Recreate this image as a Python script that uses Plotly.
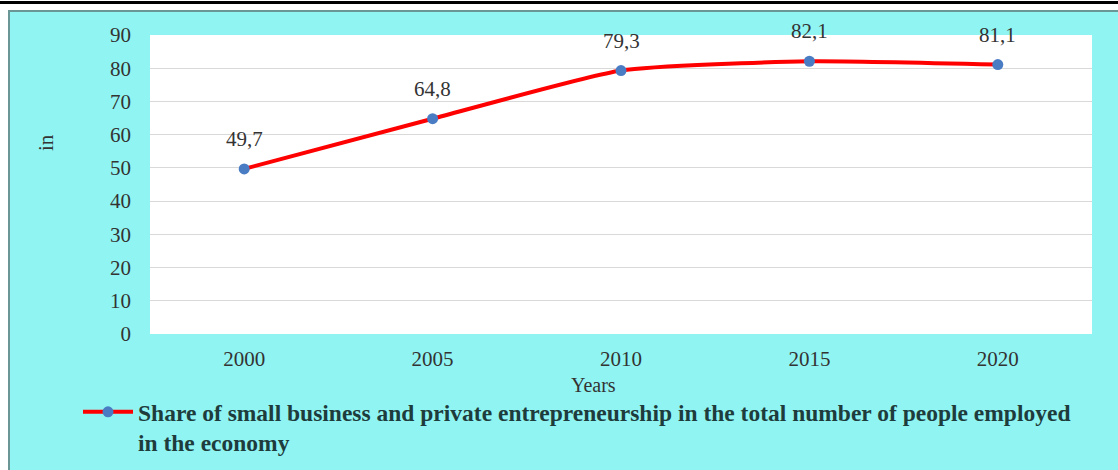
import plotly.graph_objects as go

years = ["2000", "2005", "2010", "2015", "2020"]
share = [49.7, 64.8, 79.3, 82.1, 81.1]
y_ticks = [0, 10, 20, 30, 40, 50, 60, 70, 80, 90]
series_name = ("Share of small business and private entrepreneurship in the total number of people employed"
               "<br>in the economy")

W, H = 1118, 470
L, R, T, B = 150, 26, 35, 136
pw, ph = W - L - R, H - T - B

def fx(px):
    return (px - L) / pw

def fy(py):
    return (H - B - py) / ph

FONT = "Liberation Serif"
CYAN = "#90F5F2"
TXT = "#333333"

fig = go.Figure()
fig.add_trace(go.Scatter(
    x=years, y=share, mode="lines+markers", name=series_name,
    line=dict(color="#FF0000", width=4, shape="spline", smoothing=0.5),
    marker=dict(color="#4A7CC4", size=11),
    showlegend=True,
))

annotations = []
for i, v in enumerate(share):
    annotations.append(dict(
        x=i, y=v, xref="x", yref="y", text=f"{v:.1f}".replace(".", ","),
        xanchor="center", yanchor="middle",
        showarrow=False, yshift=30, font=dict(family=FONT, size=21, color=TXT),
    ))
annotations.append(dict(
    x=fx(593), y=fy(385), xref="paper", yref="paper", text="Years", showarrow=False,
    xanchor="center", yanchor="middle",
    font=dict(family=FONT, size=20, color=TXT),
))
annotations.append(dict(
    x=fx(46), y=fy(143), xref="paper", yref="paper", text="in", textangle=-90, showarrow=False,
    xanchor="center", yanchor="middle",
    font=dict(family=FONT, size=21, color=TXT),
))

shapes = [
    dict(type="rect", xref="paper", yref="paper", x0=fx(8), x1=fx(1120), y0=fy(472), y1=fy(10),
         fillcolor=CYAN, line=dict(width=0), layer="below"),
    dict(type="line", xref="paper", yref="paper", x0=fx(9), x1=fx(9), y0=fy(472), y1=fy(10),
         line=dict(color="#6A9696", width=2)),
    dict(type="line", xref="paper", yref="paper", x0=fx(8), x1=fx(1120), y0=fy(11), y1=fy(11),
         line=dict(color="#6A9696", width=2)),
    dict(type="line", xref="paper", yref="paper", x0=fx(0), x1=fx(1120), y0=fy(2.5), y1=fy(2.5),
         line=dict(color="#000000", width=3)),
    dict(type="rect", xref="paper", yref="paper", x0=0, x1=1, y0=0, y1=1,
         fillcolor="#FFFFFF", line=dict(width=0), layer="below"),
]

fig.update_layout(
    width=W, height=H,
    margin=dict(l=L, r=R, t=T, b=B, autoexpand=False),
    paper_bgcolor="#FFFFFF",
    plot_bgcolor="rgba(0,0,0,0)",
    font=dict(family=FONT, size=21, color=TXT),
    showlegend=True,
    legend=dict(
        xref="container", yref="container",
        x=78 / W, y=1 - 390 / H, xanchor="left", yanchor="top", valign="top",
        bgcolor="rgba(0,0,0,0)", font=dict(family=FONT, size=23.5, color="#1E3C3C", weight="bold"),
        itemwidth=50, tracegroupgap=0,
    ),
    xaxis=dict(
        type="category", categoryorder="array", categoryarray=years, range=[-0.5, 4.5],
        showgrid=False, showline=False, zeroline=False, ticks="", ticklabelstandoff=10,
        tickfont=dict(family=FONT, size=21, color=TXT), automargin=False,
    ),
    yaxis=dict(
        range=[0, 90], tickvals=y_ticks, showgrid=True, gridcolor="#D9D9D9", gridwidth=1,
        zeroline=False, showline=False, ticks="", ticklabelstandoff=18,
        tickfont=dict(family=FONT, size=21, color=TXT), automargin=False,
    ),
    annotations=annotations,
    shapes=shapes,
)

fig.write_html("out.html")
